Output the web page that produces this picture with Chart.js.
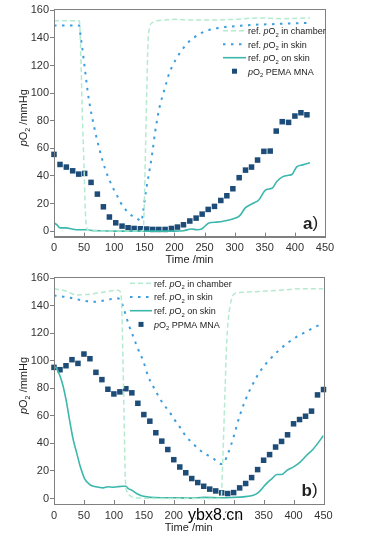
<!DOCTYPE html>
<html>
<head>
<meta charset="utf-8">
<script src="https://cdn.jsdelivr.net/npm/chart.js@4.4.1/dist/chart.umd.min.js"></script>
<style>
  body { margin: 0; background: #fff; }
  .panel { position: absolute; left: 0; }
</style>
</head>
<body>
<div class="panel" style="top:0"><canvas id="chart-a" width="367" height="268"></canvas></div>
<div class="panel" style="top:268px"><canvas id="chart-b" width="367" height="275"></canvas></div>
<script>
// axis ticks
var ticksX = [0, 50, 100, 150, 200, 250, 300, 350, 400, 450];
var ticksY = [0, 20, 40, 60, 80, 100, 120, 140, 160];

// panel a) PEMA MNA
var aChamberT = [0, 42, 43, 45, 47, 50, 52, 54, 57, 100, 145, 148, 150, 152, 154, 156, 159, 163, 170, 185, 200, 230, 260, 300, 340, 380, 425];
var aChamberV = [152.5, 152.5, 148, 120, 85, 45, 15, 3, 0.5, 0, 0, 0.5, 20, 60, 100, 135, 148, 151, 152.3, 153, 153.5, 153, 153, 153.5, 154.5, 154, 154.5];
var aSkinT = [0, 42, 44, 48, 52, 56, 60, 65, 70, 75, 80, 85, 90, 95, 100, 105, 110, 120, 130, 140, 145, 148, 151, 155, 159, 163, 168, 173, 177, 183, 187, 191, 197, 203, 212, 220, 230, 242, 255, 270, 285, 300, 330, 360, 390, 425];
var aSkinV = [149, 149, 142, 129, 115, 101, 90, 79, 69, 60, 52, 45, 39, 34, 29.5, 25.5, 21, 15, 11, 8.5, 7, 14, 24, 35, 45, 56, 72, 85, 93, 102, 108, 114, 120, 125, 131, 135.5, 139.5, 143, 145.5, 147, 148, 148.5, 149.5, 150, 150.5, 151];
var aOnSkinT = [0, 5, 10, 20, 30, 40, 55, 65, 80, 100, 150, 200, 215, 228, 238, 245, 258, 270, 285, 298, 308, 318, 330, 340, 352, 362, 370, 380, 390, 395, 403, 413, 425];
var aOnSkinV = [6, 4.5, 2.3, 2.3, 1.5, 1, 1, 0.3, 0.2, 0, 0, 0, 0.3, 1.5, 1, 1.5, 6, 6.5, 7.5, 9, 11, 17, 20, 22.5, 30, 31, 36, 39.5, 40.5, 41, 46.5, 48, 49.5];
var aMnaT = [0, 10, 20.5, 31, 41, 51, 61.5, 72, 82, 92, 102.5, 113, 123, 133, 143.5, 154, 164, 174, 184.5, 195, 205, 215, 225.5, 236, 246, 256, 266.5, 277, 287, 297, 307.5, 318, 328, 338, 348.5, 359, 369, 379, 389.5, 400, 410, 420];
var aMnaV = [55.6, 48.3, 46.4, 43.7, 41.3, 41.8, 35.3, 26.8, 17.6, 10.2, 6.0, 3.6, 2.4, 1.9, 1.7, 1.5, 1.2, 1.2, 1.2, 1.9, 2.9, 4.6, 7.3, 9.4, 12.3, 15.7, 17.9, 22.2, 25.6, 30.7, 38.7, 44.2, 46.4, 51.5, 57.8, 58.0, 72.5, 79.3, 78.8, 83.4, 85.8, 84.3];

// panel b) PPMA MNA
var bChamberT = [0, 20, 37, 60, 82, 107, 111, 113, 117, 119, 122, 127, 140, 200, 279, 282, 285, 288, 291, 294, 298, 305, 320, 355, 383, 411, 450];
var bChamberV = [152.5, 150.8, 148, 148.5, 150, 151.3, 150, 140, 60, 15, 5, 2, 0.4, 0, 0, 30, 70, 110, 130, 140, 147, 149.5, 150, 150.8, 151.5, 152.5, 152.5];
var bSkinT = [0, 20, 48, 65, 85, 104, 110, 115, 120, 125, 132, 140, 149, 157, 165, 171, 179, 195, 204, 212, 221, 230, 241, 252, 266, 280, 285, 290, 295, 300, 310, 320, 333, 345, 360, 375, 390, 405, 420, 435, 450];
var bSkinV = [147.5, 146.5, 144, 143, 144, 145.5, 145, 140, 133, 126, 118, 109, 100, 89, 82, 77, 71, 61.5, 55.5, 50.7, 44.6, 41, 36, 32.6, 29, 25, 27, 32, 38, 45, 60, 72, 84, 93, 101, 107.5, 113, 117.5, 121, 124.5, 127.5];
var bOnSkinT = [0, 5, 10, 15, 20, 26, 32, 38, 44, 51, 60, 70, 82, 90, 99, 105, 115, 120, 124, 130, 138, 146, 155, 170, 199, 230, 250, 280, 300, 316, 333, 341, 348, 355, 364, 372, 380, 389, 400, 411, 422, 433, 450];
var bOnSkinV = [96.5, 94, 89, 82, 72, 57, 43, 33, 23, 14.5, 10, 8.5, 7.7, 8.5, 8.2, 8.5, 8.9, 8.9, 7.2, 6, 3.6, 2, 1.2, 0.7, 0.5, 0.3, 0.8, 0.5, 0.8, 1.2, 2.4, 4.3, 7.5, 11, 14.5, 17.4, 17.4, 20.5, 23, 26.5, 31.4, 36, 45.8];
var bMnaT = [0, 10, 20, 30, 40, 50, 60, 70, 80, 90, 100, 110, 120, 130, 140, 150, 160, 170, 180, 190, 200, 210, 220, 230, 240, 250, 260, 270, 280, 290, 300, 310, 320, 330, 340, 350, 360, 370, 380, 390, 400, 410, 420, 430, 440, 450];
var bMnaV = [95.3, 93.6, 96.5, 100.9, 98.2, 105, 101.6, 91.7, 86.4, 79.4, 76, 77.5, 79.8, 76.8, 69.2, 61, 56.2, 47.8, 41.7, 35.6, 28.2, 22.9, 18.7, 14.5, 11.6, 8.9, 6.8, 5.5, 4.1, 3.6, 4.3, 7.7, 10.9, 15.2, 21, 27.8, 31.9, 37.4, 41.5, 46.3, 54.3, 57.4, 59.8, 63.5, 75.3, 79.2];

var legendLabels = ['ref. pO2 in chamber', 'ref. pO2 in skin', 'ref. pO2 on skin'];

var FONT = '"Liberation Sans", Arial, sans-serif';
var chamberColor = '#b3ead0';
var skinColor = '#3a9ee0';
var onSkinColor = '#3bb7ab';
var mnaColor = '#1c4c77';

function toXY(t, v) {
    return t.map(function (x, i) { return { x: x, y: v[i] }; });
}

// text with italic p and subscript 2 in "pO2"
function richText(ctx, str, x, y, size, draw) {
    var parts = str.split('pO2');
    var cx = x;
    function put(s, font, dy) {
        ctx.font = font;
        if (draw) ctx.fillText(s, cx, y + dy);
        cx += ctx.measureText(s).width;
    }
    parts.forEach(function (p, i) {
        if (i > 0) {
            put('p', 'italic ' + size + 'px ' + FONT, 0);
            put('O', size + 'px ' + FONT, 0);
            put('2', (size * 0.65) + 'px ' + FONT, size * 0.3);
        }
        put(p, size + 'px ' + FONT, 0);
    });
    return cx - x;
}

var decor = {
    id: 'decor',
    afterDraw: function (chart) {
        var ctx = chart.ctx;
        var a = chart.chartArea;
        var o = chart.options.plugins.decor;
        var xs = chart.scales.x;
        ctx.save();
        // frame
        ctx.strokeStyle = '#808080';
        ctx.lineWidth = 1;
        ctx.strokeRect(Math.round(a.left) + 0.5, Math.round(a.top) + 0.5, Math.round(a.right - a.left), Math.round(a.bottom - a.top));
        // inward ticks on x axis
        ticksX.forEach(function (v) {
            var px = Math.round(xs.getPixelForValue(v)) + 0.5;
            ctx.beginPath();
            ctx.moveTo(px, a.bottom);
            ctx.lineTo(px, a.bottom - 4);
            ctx.stroke();
        });
        ctx.fillStyle = '#222';
        ctx.textBaseline = 'alphabetic';
        ctx.textAlign = 'left';
        // x title
        ctx.font = '11px ' + FONT;
        var tw = ctx.measureText('Time /min').width;
        ctx.fillText('Time /min', (a.left + a.right) / 2 - tw / 2, a.bottom + o.xTitleY);
        // y title
        ctx.save();
        ctx.translate(27, (a.top + a.bottom) / 2 - 5);
        ctx.rotate(-Math.PI / 2);
        var w = richText(ctx, 'pO2 /mmHg', 0, 0, 11, false);
        richText(ctx, 'pO2 /mmHg', -w / 2, 0, 11, true);
        ctx.restore();
        // panel letter
        ctx.font = 'bold 17px ' + FONT;
        ctx.fillText(o.letter, a.right - 22, a.bottom - 8);
        var lw = ctx.measureText(o.letter).width;
        ctx.font = '17px ' + FONT;
        ctx.fillText(')', a.right - 22 + lw, a.bottom - 9);
        // legend
        var lg = o.legend;
        var ds = chart.data.datasets;
        ctx.fillStyle = '#222';
        var labels = legendLabels.concat([lg.mnaLabel]);
        labels.forEach(function (lab, i) {
            var y = lg.y + i * lg.step;
            var d = ds[i];
            if (i < 3) {
                ctx.save();
                ctx.strokeStyle = d.borderColor;
                ctx.lineWidth = d.borderWidth;
                ctx.setLineDash(d.borderDash || []);
                ctx.beginPath();
                ctx.moveTo(lg.x, y);
                ctx.lineTo(lg.x + lg.sampleW, y);
                ctx.stroke();
                ctx.restore();
            } else {
                ctx.fillStyle = mnaColor;
                ctx.fillRect(lg.x + lg.sampleW / 2 - 2.5, y - 2.5, 5, 5);
                ctx.fillStyle = '#222';
            }
            richText(ctx, lab, lg.x + lg.sampleW + 2, y + 3.3, 9, true);
        });
        // watermark
        if (o.watermark) {
            ctx.font = '16px ' + FONT;
            ctx.lineWidth = 3;
            ctx.strokeStyle = '#fff';
            ctx.strokeText(o.watermark, 188, a.bottom + 16);
            ctx.fillStyle = '#000';
            ctx.fillText(o.watermark, 188, a.bottom + 16);
        }
        ctx.restore();
    }
};

function buildPanel(id, series, opts) {
    var canvas = document.getElementById(id);
    var H = canvas.height;
    return new Chart(canvas, {
        type: 'line',
        data: {
            datasets: [{
                data: toXY(series[0], series[1]),
                borderColor: chamberColor,
                borderWidth: 1.5,
                borderDash: [5, 3],
                pointRadius: 0,
                cubicInterpolationMode: 'monotone'
            }, {
                data: toXY(series[2], series[3]),
                borderColor: skinColor,
                borderWidth: 2,
                borderDash: [2.5, 5.5],
                pointRadius: 0,
                cubicInterpolationMode: 'monotone'
            }, {
                data: toXY(series[4], series[5]),
                borderColor: onSkinColor,
                borderWidth: 1.6,
                pointRadius: 0,
                cubicInterpolationMode: 'monotone'
            }, {
                data: toXY(series[6], series[7]),
                showLine: false,
                clip: false,
                pointStyle: 'rect',
                pointRadius: 3.9,
                borderWidth: 0,
                backgroundColor: mnaColor,
                borderColor: mnaColor
            }]
        },
        options: {
            responsive: false,
            animation: false,
            devicePixelRatio: 1,
            layout: { padding: { top: 9, right: opts.right, left: 0, bottom: 0 } },
            scales: {
                x: {
                    type: 'linear',
                    min: 0,
                    max: 450,
                    afterBuildTicks: function (s) { s.ticks = ticksX.map(function (v) { return { value: v }; }); },
                    afterFit: function (s) { s.height = H - opts.bottom; },
                    grid: { drawOnChartArea: false, drawTicks: false },
                    border: { color: '#808080' },
                    ticks: { font: { size: 11, family: FONT }, color: '#333', padding: 5, maxRotation: 0 }
                },
                y: {
                    min: -4,
                    max: 161,
                    afterBuildTicks: function (s) { s.ticks = ticksY.map(function (v) { return { value: v }; }); },
                    afterFit: function (s) { s.width = 54; },
                    grid: { drawOnChartArea: false, tickLength: 4, color: '#808080' },
                    border: { color: '#808080' },
                    ticks: { font: { size: 11, family: FONT }, color: '#333', padding: 1 }
                }
            },
            plugins: {
                legend: { display: false },
                tooltip: { enabled: false },
                decor: opts.decor
            }
        },
        plugins: [decor]
    });
}

buildPanel('chart-a', [aChamberT, aChamberV, aSkinT, aSkinV, aOnSkinT, aOnSkinV, aMnaT, aMnaV], {
    right: 42,
    bottom: 236.6,
    decor: {
        letter: 'a',
        xTitleY: 26,
        legend: { x: 223, y: 30.7, step: 13.5, sampleW: 23, mnaLabel: 'pO2 PEMA MNA' }
    }
});

buildPanel('chart-b', [bChamberT, bChamberV, bSkinT, bSkinV, bOnSkinT, bOnSkinV, bMnaT, bMnaV], {
    right: 43.5,
    bottom: 236,
    decor: {
        letter: 'b',
        xTitleY: 27,
        legend: { x: 130, y: 15.3, step: 13.7, sampleW: 22, mnaLabel: 'pO2 PPMA MNA' },
        watermark: 'ybx8.cn'
    }
});
</script>
</body>
</html>
